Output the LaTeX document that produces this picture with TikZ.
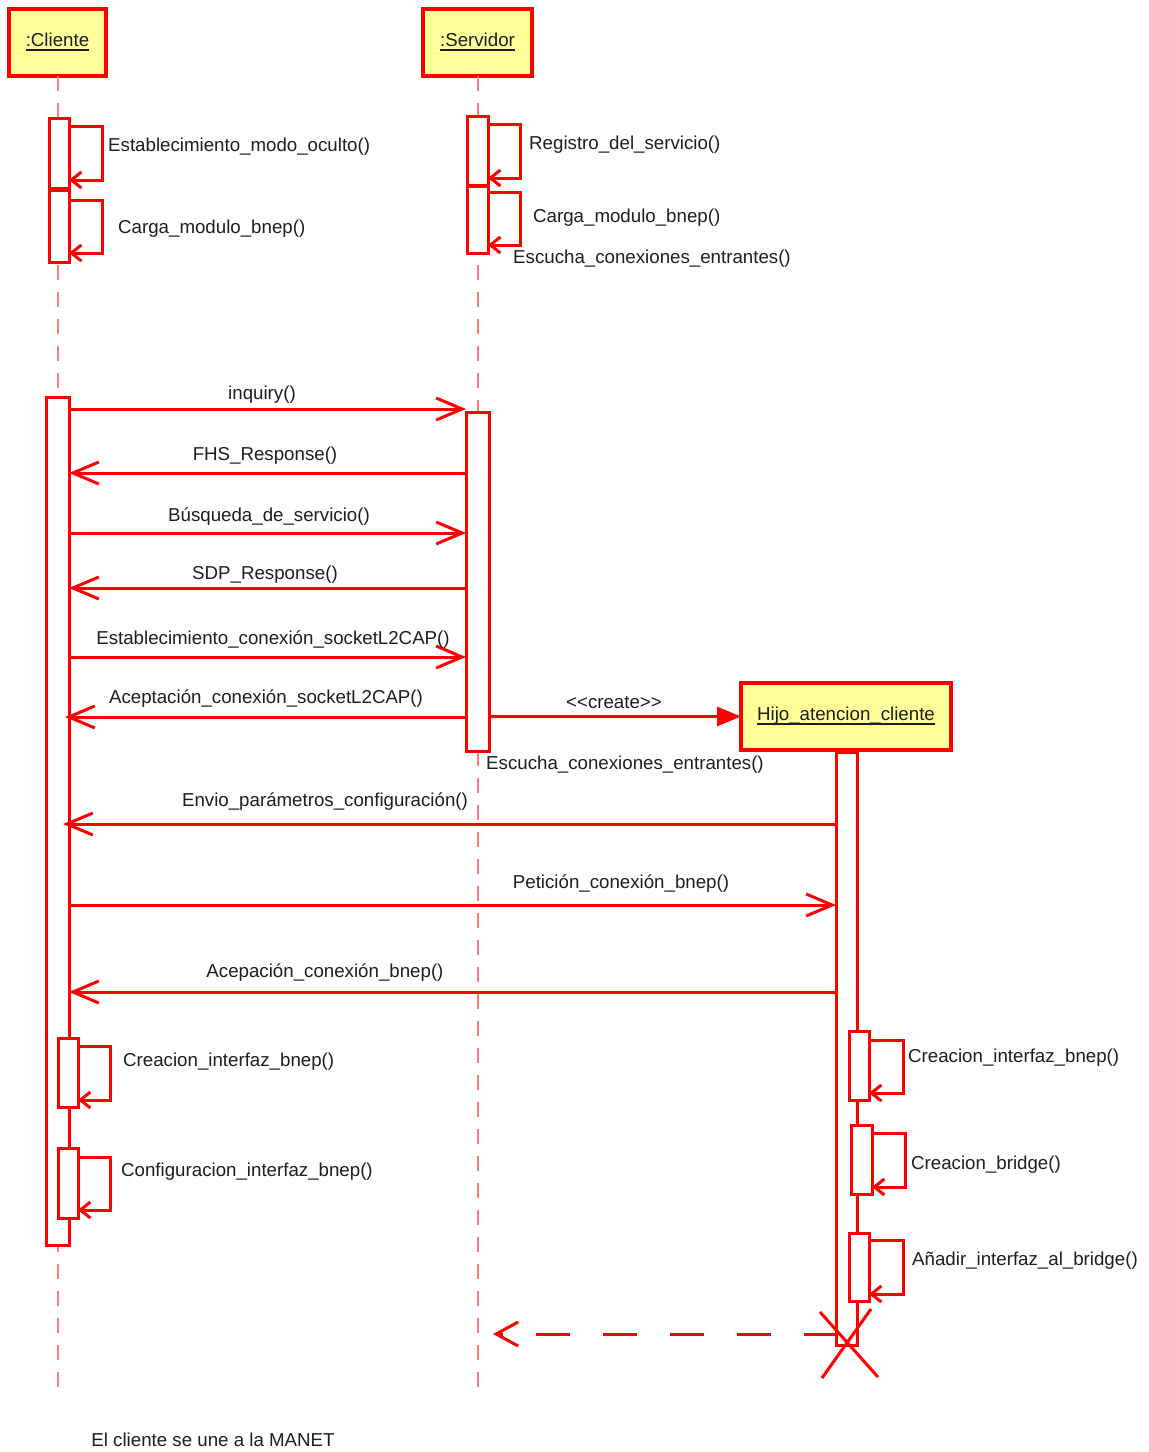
\documentclass[tikz,border=0pt]{standalone}
\usepackage{fontspec}
\setmainfont{Liberation Sans}
\usetikzlibrary{arrows.meta}
\definecolor{umlred}{RGB}{255,0,0}
\definecolor{lifered}{RGB}{255,125,125}
\definecolor{objfill}{RGB}{255,255,153}
\definecolor{inktext}{RGB}{30,30,30}

\begin{document}
\begin{tikzpicture}[x=1pt,y=-1pt,
  every node/.style={font=\fontsize{18.7}{22}\selectfont, text=inktext},
  object/.style={draw=umlred, line width=3.5pt, fill=objfill, inner sep=0pt, outer sep=0pt},
  actbox/.style={draw=umlred, line width=3pt, fill=white, inner sep=0pt, outer sep=0pt},
  lifeline/.style={draw=lifered, line width=2.5pt, dash pattern=on 15pt off 12pt},
  msg/.style={draw=umlred, line width=3pt, -{Straight Barb[length=26pt,width=22pt]}},
  selfmsg/.style={draw=umlred, line width=3pt, -{Straight Barb[length=10pt,width=16pt]}},
  createmsg/.style={draw=umlred, line width=3pt, -{Triangle[length=24pt,width=19pt]}},
  retmsg/.style={draw=umlred, line width=3pt, dash pattern=on 34pt off 33pt, -{Straight Barb[length=22pt,width=24pt]}},
  lbl/.style={inner sep=0pt, anchor=west},
  mlbl/.style={inner sep=0pt},
  title/.style={inner sep=0pt},
  uline/.style={line width=2pt, inktext}
]
\useasboundingbox (0,0) rectangle (1149,1452);
\fill[white] (0,0) rectangle (1149,1452);

% ---- objects ----
\node[object, minimum width=97pt, minimum height=67pt] (cli) at (57.5,42.5) {};
\node[object, minimum width=109pt, minimum height=67pt] (srv) at (477.5,42.5) {};
\node[title] (cliT) at ([yshift=3pt]cli.center) {:Cliente};
\draw[uline] ([yshift=-4pt]cliT.base west) -- ([yshift=-4pt]cliT.base east);
\node[title] (srvT) at ([yshift=3pt]srv.center) {:Servidor};
\draw[uline] ([yshift=-4pt]srvT.base west) -- ([yshift=-4pt]srvT.base east);

% ---- lifelines ----
\coordinate (cliEnd) at (58,1395);
\coordinate (srvEnd) at (478,1395);
\draw[lifeline] (cliEnd |- cli.south) -- (cliEnd);
\draw[lifeline] (srvEnd |- srv.south) -- (srvEnd);

% ---- start-up activations ----
\node[actbox, minimum width=20pt, minimum height=70pt] (ca1) at (59,153) {};
\node[actbox, minimum width=20pt, minimum height=72pt] (ca2) at (59,226) {};
\node[actbox, minimum width=21pt, minimum height=69pt] (sa1) at (477.5,150.5) {};
\node[actbox, minimum width=21pt, minimum height=67pt] (sa2) at (477.5,219.5) {};

\draw[selfmsg] (ca1.east |- 0,126) -| (102,180) -- (ca1.east |- 0,180);
\draw[selfmsg] (ca2.east |- 0,200) -| (102,253) -- (ca2.east |- 0,253);
\draw[selfmsg] (sa1.east |- 0,124) -| (520,178) -- (sa1.east |- 0,178);
\draw[selfmsg] (sa2.east |- 0,192) -| (520,245) -- (sa2.east |- 0,245);

\node[lbl] (l1) at (108,147) {Establecimiento\_modo\_oculto()};
\node[lbl] (l2) at (118,229) {Carga\_modulo\_bnep()};
\node[lbl] (l3) at (529,145) {Registro\_del\_servicio()};
\node[lbl] (l4) at (533,218) {Carga\_modulo\_bnep()};
\node[lbl] (l5) at (513,259) {Escucha\_conexiones\_entrantes()};

% ---- main activations ----
\node[actbox, minimum width=23pt, minimum height=848pt] (cA) at (57.5,821) {};
\node[actbox, minimum width=23pt, minimum height=339pt] (sA) at (477.5,581.5) {};

% ---- child object ----
\node[object, minimum width=210pt, minimum height=67pt] (hijo) at (846,716.5) {};
\node[title] (hijoT) at ([yshift=1pt]hijo.center) {Hijo\_atencion\_cliente};
\draw[uline] ([yshift=-4pt]hijoT.base west) -- ([yshift=-4pt]hijoT.base east);
\node[actbox, minimum width=21pt, minimum height=593pt] (hA) at (846.5,1048.5) {};

% ---- nested activations ----
\node[actbox, minimum width=20pt, minimum height=69pt] (cn1) at (68,1072.5) {};
\node[actbox, minimum width=20pt, minimum height=70pt] (cn2) at (68,1183) {};
\node[actbox, minimum width=20pt, minimum height=69pt] (hn1) at (859,1065.5) {};
\node[actbox, minimum width=21pt, minimum height=69pt] (hn2) at (861.5,1159.5) {};
\node[actbox, minimum width=20pt, minimum height=68pt] (hn3) at (859,1267) {};

\draw[selfmsg] (cn1.east |- 0,1046) -| (110,1100) -- (cn1.east |- 0,1100);
\draw[selfmsg] (cn2.east |- 0,1157) -| (110,1210) -- (cn2.east |- 0,1210);
\draw[selfmsg] (hn1.east |- 0,1040) -| (903,1093) -- (hn1.east |- 0,1093);
\draw[selfmsg] (hn2.east |- 0,1133) -| (905,1187) -- (hn2.east |- 0,1187);
\draw[selfmsg] (hn3.east |- 0,1240) -| (903,1294) -- (hn3.east |- 0,1294);

\node[lbl] (l6) at (123,1062) {Creacion\_interfaz\_bnep()};
\node[lbl] (l7) at (121,1172) {Configuracion\_interfaz\_bnep()};
\node[lbl] (l8) at (908,1058) {Creacion\_interfaz\_bnep()};
\node[lbl] (l9) at (911,1165) {Creacion\_bridge()};
\node[lbl] (l10) at (912,1261) {Añadir\_interfaz\_al\_bridge()};

% ---- messages ----
\draw[msg] (cA.east |- 0,409) -- (sA.west |- 0,409);
\node[mlbl] at (262,395) {inquiry()};
\draw[msg] (sA.west |- 0,473) -- (cA.east |- 0,473);
\node[mlbl] at (265,456) {FHS\_Response()};
\draw[msg] (cA.east |- 0,533) -- (sA.west |- 0,533);
\node[mlbl] at (269,517) {Búsqueda\_de\_servicio()};
\draw[msg] (sA.west |- 0,588) -- (cA.east |- 0,588);
\node[mlbl] at (265,575) {SDP\_Response()};
\draw[msg] (cA.east |- 0,657) -- (sA.west |- 0,657);
\node[mlbl] at (273,640) {Establecimiento\_conexión\_socketL2CAP()};
\draw[msg] (sA.west |- 0,717) -- ([xshift=-4pt]cA.east |- 0,717);
\node[mlbl] at (266,699) {Aceptación\_conexión\_socketL2CAP()};

\draw[createmsg] (sA.east |- hijo.west) -- (hijo.west);
\node[mlbl] at (614,703) {<{}<create>{}>};
\node[lbl] (l11) at (486,765) {Escucha\_conexiones\_entrantes()};

\draw[msg] (hA.west |- 0,824) -- ([xshift=-6pt]cA.east |- 0,824);
\node[mlbl] at (325,802) {Envio\_parámetros\_configuración()};
\draw[msg] (cA.east |- 0,905) -- (hA.west |- 0,905);
\node[mlbl] at (621,884) {Petición\_conexión\_bnep()};
\draw[msg] (hA.west |- 0,992) -- (cA.east |- 0,992);
\node[mlbl] at (325,973) {Acepación\_conexión\_bnep()};

% ---- return and destruction ----
\coordinate (retEnd) at (493,1334);
\draw[retmsg] ([xshift=2pt]hA.west |- retEnd) -- (retEnd);
\coordinate (xm) at (847,1343);
\draw[umlred, line width=3pt] (xm) ++(-27,-31) -- ++(58,65);
\draw[umlred, line width=3pt] (xm) ++(24,-34) -- ++(-49,69);

\node[mlbl] (note) at (213,1440) {El cliente se une a la MANET};
\end{tikzpicture}
\end{document}
